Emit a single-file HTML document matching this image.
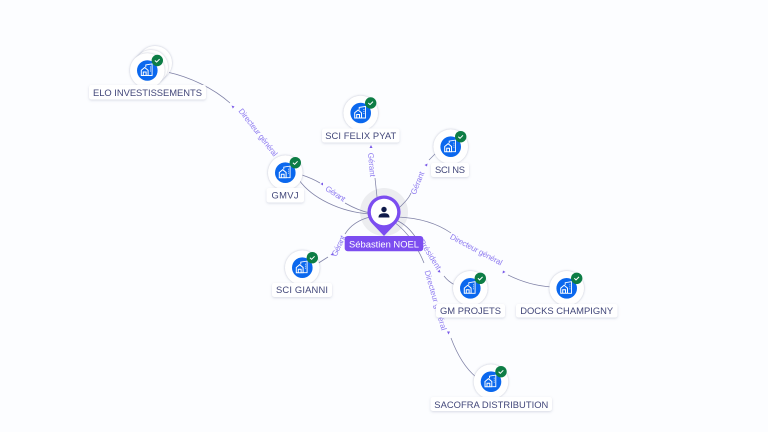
<!DOCTYPE html>
<html><head><meta charset="utf-8">
<style>
html,body{margin:0;padding:0;background:#fcfdff;width:768px;height:432px;overflow:hidden}
svg{display:block}
text{font-family:"Liberation Sans",sans-serif}
.l{font-size:9.4px;fill:#42477a;text-anchor:middle}
.e{font-size:8px;fill:#8f7cf0;text-anchor:middle}
.c{fill:none;stroke:#7f81a6;stroke-width:.75}
.a{fill:#7a5ae8}
.r{fill:#fff;filter:url(#s)}
.w{fill:#fff;filter:url(#s2)}
</style></head><body>
<svg width="768" height="432" viewBox="0 0 768 432" xmlns="http://www.w3.org/2000/svg">
<defs>
<filter id="s" x="-20%" y="-50%" width="140%" height="220%"><feDropShadow dx="0" dy="1" stdDeviation="1.4" flood-color="#8088a8" flood-opacity=".3"/></filter>
<filter id="s2" x="-30%" y="-30%" width="160%" height="160%"><feDropShadow dx="0" dy="0" stdDeviation="1" flood-color="#70789a" flood-opacity=".5"/></filter>
<g id="n">
<circle class="w" r="17.3"/>
<circle r="10.3" fill="#0b68ee"/>
<path d="M-6-.2-2.6-3 .8-.2V5H-6ZM-4 5V1.5H-1.2V5" fill="none" stroke="#fff" stroke-width="1"/>
<path d="M-1.5-3.4V-5.6L4.8-6.6V5H1.2M2.8-3.5H3.6M2.8-1.5H3.6M2.8.5H3.6" fill="none" stroke="#fff" stroke-width=".9"/>
<circle cx="10" cy="-10" r="5.7" fill="#0d7d45"/>
<path d="M7.6-10 9.3-8.400 12.300-11.400" fill="none" stroke="#fff" stroke-width="1"/>
</g>
</defs>
<rect width="768" height="432" fill="#fcfdff"/>

<!-- halo under the connectors -->
<circle cx="384" cy="212" r="24" fill="#ecedf0"/>

<!-- connectors -->
<path class="c" d="M167 72C190 77 213 88 230 103"/>
<path class="c" d="M302 175C308 177 315 180 320 183"/>
<path class="c" d="M345 203C352 207 360 211 370 213"/>
<path class="c" d="M299 180C312 198 340 212 370 214"/>
<path class="c" d="M375 178 377 197"/>
<path class="c" d="M399 208C405 202 409 198 411 193"/>
<path class="c" d="M429 160 436 153"/>
<path class="c" d="M398 217C420 218 438 224 451 233"/>
<path class="c" d="M398 221C408 226 415 235 420 245"/>
<path class="c" d="M508 275C522 282 537 286 551 287"/>
<path class="c" d="M444 276C447 280 451 283 455 285"/>
<path class="c" d="M394 222C408 232 418 248 424 263"/>
<path class="c" d="M451 338C457 354 465 368 476 377"/>
<path class="c" d="M370 217C358 220 350 226 345 234"/>
<path class="c" d="M317 264 328 257"/>

<!-- arrowheads -->
<path class="a" d="M231.500 105.500 234.500 106.500 232.800 108.500Z"/>
<path class="a" d="M320.500 184 323 182.500 323 185.500Z"/>
<path class="a" d="M371 145 372.500 148 369.500 148Z"/>
<path class="a" d="M427.500 163.500 427 166.500 424.500 165Z"/>
<path class="a" d="M505.500 272 502.500 273.500 503 270.500Z"/>
<path class="a" d="M440.500 272.500 437.500 272 439.500 269.500Z"/>
<path class="a" d="M448.500 334.500 447 331.500 450 331.500Z"/>
<path class="a" d="M330.500 255 333 252.500 334 255.500Z"/>

<!-- connector labels -->
<text class="e" transform="translate(256 134) rotate(52)" textLength="58">Directeur général</text>
<text class="e" transform="translate(334 196) rotate(33)" textLength="22">Gérant</text>
<text class="e" transform="translate(369 165) rotate(85)" textLength="24">Gérant</text>
<text class="e" transform="translate(420 184) rotate(-68)" textLength="24">Gérant</text>
<text class="e" transform="translate(475 252) rotate(28)" textLength="58">Directeur général</text>
<text class="e" transform="translate(428 256) rotate(58)" textLength="34">Président</text>
<text class="e" transform="translate(433 301) rotate(74)" textLength="62">Directeur général</text>
<text class="e" transform="translate(341 247) rotate(-65)" textLength="22">Gérant</text>

<!-- nodes -->
<g transform="translate(155 63)"><circle class="w" r="17"/></g>
<g transform="translate(151 67)"><circle class="w" r="17"/></g>
<use href="#n" x="147.300" y="70.500"/>
<use href="#n" x="285.300" y="172.700"/>
<use href="#n" x="360.700" y="113"/>
<use href="#n" x="450.700" y="146.700"/>
<use href="#n" x="302.300" y="267.700"/>
<use href="#n" x="470.300" y="288.300"/>
<use href="#n" x="566.700" y="288.300"/>
<use href="#n" x="491" y="381.700"/>

<!-- labels -->
<rect class="r" x="89" y="85" width="117" height="14.500" rx="2.500"/>
<text class="l" x="147.500" y="96" textLength="109">ELO INVESTISSEMENTS</text>
<rect class="r" x="266.500" y="188" width="37.500" height="14.500" rx="2.500"/>
<text class="l" x="285" y="198.500" textLength="27">GMVJ</text>
<rect class="r" x="322" y="128.500" width="77.500" height="14" rx="2.500"/>
<text class="l" x="360.700" y="139" textLength="71">SCI FELIX PYAT</text>
<rect class="r" x="431" y="163" width="38" height="14" rx="2.500"/>
<text class="l" x="450" y="173" textLength="30">SCI NS</text>
<rect class="r" x="272" y="283" width="60" height="14" rx="2.500"/>
<text class="l" x="302" y="293" textLength="52">SCI GIANNI</text>
<rect class="r" x="436" y="304" width="69" height="13.500" rx="2.500"/>
<text class="l" x="470.500" y="314" textLength="61">GM PROJETS</text>
<rect class="r" x="516" y="304" width="101.500" height="13.500" rx="2.500"/>
<text class="l" x="566.700" y="314" textLength="93">DOCKS CHAMPIGNY</text>
<rect class="r" x="430.500" y="397" width="121.500" height="14" rx="2.500"/>
<text class="l" x="491.300" y="408" textLength="114">SACOFRA DISTRIBUTION</text>

<!-- central pin -->
<path d="M384 195.500A16.500 16.500 0 0 1 395.700 223.700L384 236 372.300 223.700A16.500 16.500 0 0 1 384 195.500Z" fill="#7c4df0"/>
<circle cx="384" cy="212" r="13.200" fill="#fff"/>
<circle cx="384" cy="209.500" r="2.700" fill="#0f1a4a"/>
<path d="M378.500 217.500C378.500 214 381 213.300 384 213.300S389.500 214 389.500 217.500Z" fill="#0f1a4a"/>
<rect x="344.700" y="236" width="78.600" height="15.300" rx="3" fill="#7c4df0"/>
<text x="384" y="247.500" font-size="9.400" fill="#fff" text-anchor="middle" textLength="70">Sébastien NOEL</text>
</svg>
</body></html>
